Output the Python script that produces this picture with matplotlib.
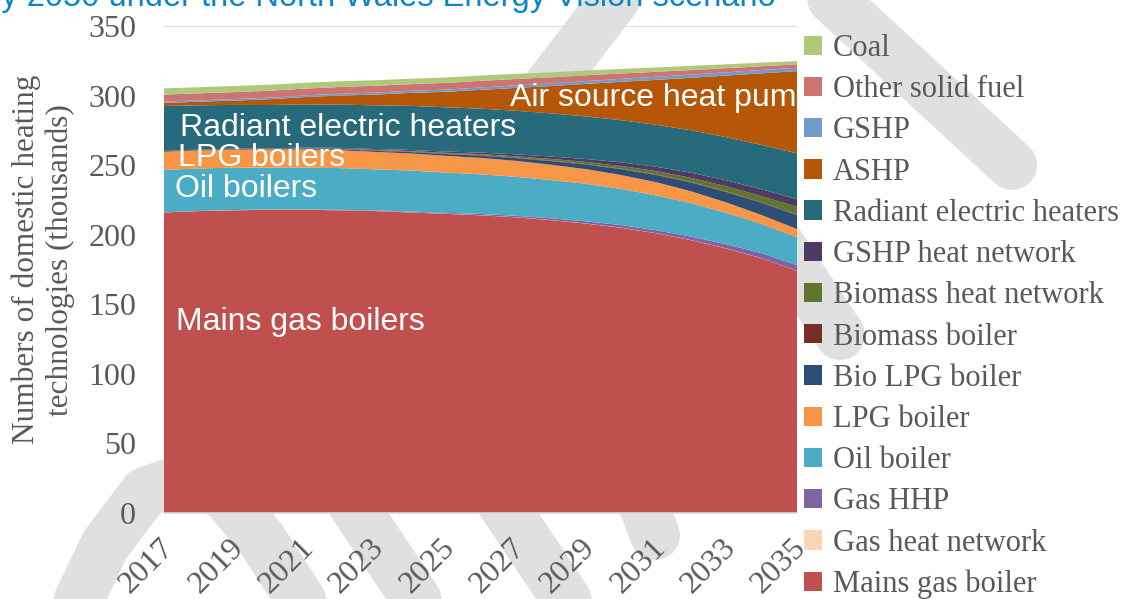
import matplotlib
matplotlib.use('Agg')
import matplotlib.pyplot as plt
from matplotlib.lines import Line2D
from matplotlib.transforms import ScaledTranslation

# years on the x axis
years = list(range(2017, 2036))

# thousands of households, bottom of stack first
mains_gas_boiler = [216, 217, 217.5, 218, 218, 217.5, 217, 216, 215, 214, 212.5, 210.5, 208, 205, 201, 196, 190, 183, 174]
gas_heat_network = [0.1] * 19
gas_hhp = [0, 0, 0.1, 0.1, 0.2, 0.3, 0.4, 0.5, 0.6, 0.8, 1.0, 1.2, 1.5, 1.8, 2.1, 2.5, 3.0, 3.5, 4.0]
oil_boiler = [30.5, 30.5, 30.5, 30, 30, 30, 29.5, 29.5, 29, 28.5, 28, 27.5, 27, 26, 25, 24, 22.5, 21, 20]
lpg_boiler = [13, 13, 13, 13, 13, 12.8, 12.5, 12.3, 12, 11.8, 11.5, 11, 10.5, 10, 9.5, 8.5, 7.5, 6.5, 6]
bio_lpg_boiler = [0, 0, 0, 0.2, 0.4, 0.6, 0.8, 1, 1.3, 1.6, 2, 2.6, 3.3, 4.2, 5.2, 6.3, 7.5, 8.7, 10]
biomass_boiler = [0.4] * 19
biomass_heat_network = [0, 0, 0, 0, 0.1, 0.2, 0.3, 0.4, 0.5, 0.7, 0.9, 1.2, 1.5, 1.9, 2.4, 3, 3.7, 4.5, 5.5]
gshp_heat_network = [0.2, 0.2, 0.3, 0.3, 0.4, 0.5, 0.6, 0.7, 0.9, 1.1, 1.4, 1.7, 2.1, 2.6, 3.1, 3.7, 4.3, 4.9, 5.5]
radiant_electric = [32.3, 31.8, 31.4, 31.1, 31.0, 31.1, 31.4, 31.7, 31.8, 31.6, 31.3, 31.0, 30.6, 30.3, 30.2, 30.5, 31.0, 31.9, 33.0]
ashp = [2.2, 2.6, 3.1, 4.2, 5.3, 6.5, 7.7, 9.3, 11.1, 13.5, 16.4, 19.6, 23.4, 27.6, 32.3, 37.8, 44.4, 51.5, 59.1]
gshp = [1.0, 1.0, 1.1, 1.1, 1.2, 1.3, 1.4, 1.5, 1.6, 1.7, 1.8, 1.9, 2.0, 2.1, 2.2, 2.3, 2.3, 2.4, 2.4]
other_solid_fuel = [5.0, 5.0, 5.0, 5.0, 4.9, 4.9, 4.9, 4.8, 4.8, 4.8, 4.6, 4.4, 4.2, 3.9, 3.6, 3.3, 3.0, 2.7, 2.4]
coal = [4.5, 4.4, 4.4, 4.3, 4.2, 4.1, 4.0, 3.9, 3.9, 3.8, 3.7, 3.6, 3.4, 3.3, 3.1, 3.0, 2.8, 2.6, 2.4]

series = [mains_gas_boiler, gas_heat_network, gas_hhp, oil_boiler, lpg_boiler, bio_lpg_boiler,
          biomass_boiler, biomass_heat_network, gshp_heat_network, radiant_electric, ashp, gshp,
          other_solid_fuel, coal]
labels = ['Mains gas boiler', 'Gas heat network', 'Gas HHP', 'Oil boiler', 'LPG boiler', 'Bio LPG boiler',
          'Biomass boiler', 'Biomass heat network', 'GSHP heat network', 'Radiant electric heaters',
          'ASHP', 'GSHP', 'Other solid fuel', 'Coal']
colors = ['#C0504D', '#FCD5B5', '#8064A2', '#4BACC6', '#F79646', '#2C4D75',
          '#772C2A', '#5F7530', '#4D3B62', '#276A7C', '#B65708', '#729ACA',
          '#CD7371', '#AFC97A']

# in-chart labels (text, x year, y value)
area_labels = [('Mains gas boilers', 2017.34, 137),
               ('Oil boilers', 2017.3, 233),
               ('LPG boilers', 2017.4, 255),
               ('Radiant electric heaters', 2017.45, 277),
               ('Air source heat pumps', 2026.84, 298.5)]

grey = '#595959'
fig = plt.figure(figsize=(11.31, 5.99), dpi=100)

# faint watermark strokes behind the chart (pixel coords)
strokes = [[(530, 110), (645, -40)],
           [(790, -40), (1012, 165)],
           [(760, 215), (840, 335)],
           [(50, 660), (105, 545), (145, 492), (185, 478), (225, 495), (262, 540), (340, 660)],
           [(330, 470), (450, 650)],
           [(480, 470), (600, 650)],
           [(630, 470), (655, 535)]]
for s in strokes:
    xs = [p[0] / 1131 for p in s]
    ys = [1 - p[1] / 599 for p in s]
    fig.add_artist(Line2D(xs, ys, color='#E0E0E0', lw=36, solid_capstyle='round',
                          solid_joinstyle='round', zorder=0))

ax = fig.add_axes([164 / 1131, 1 - 513 / 599, 633 / 1131, 487 / 599])
ax.set_zorder(1)
ax.patch.set_alpha(0)

stacks = ax.stackplot(years, *series, labels=labels, colors=colors, lw=0, zorder=2)

ax.set_xlim(2017, 2035)
ax.set_ylim(0, 350)
ax.set_yticks(range(0, 351, 50))
ax.set_xticks(range(2017, 2036, 2))
ax.set_xticklabels([str(y) for y in range(2017, 2036, 2)], rotation=45, ha='right',
                   va='center', rotation_mode='anchor')
ax.tick_params(axis='both', length=0, labelsize=23, labelcolor=grey)
ax.tick_params(axis='x', pad=22)
ax.tick_params(axis='y', pad=20)
shift = ScaledTranslation(5 / 100, 0, fig.dpi_scale_trans)
for t in ax.get_xticklabels():
    t.set_transform(t.get_transform() + shift)
for t in ax.get_xticklabels() + ax.get_yticklabels():
    t.set_family('Liberation Serif')
ax.grid(axis='y', color='#D9D9D9', lw=1.2, zorder=1)
ax.set_axisbelow(True)
for side in ['left', 'right', 'top']:
    ax.spines[side].set_visible(False)
ax.spines['bottom'].set_color('#D9D9D9')
ax.spines['bottom'].set_linewidth(1.2)

ax.set_ylabel('Numbers of domestic heating\ntechnologies (thousands)', fontsize=22.5,
              color=grey, family='Liberation Serif', linespacing=1.2)
ax.yaxis.set_label_coords(-0.14, 0.52)

for txt, x, y in area_labels:
    ax.text(x, y, txt, color='white', fontsize=23, family='Liberation Sans',
            ha='left', va='center', clip_on=True, zorder=5)

handles = stacks[::-1]
leg = fig.legend(handles, labels[::-1], loc='upper left', bbox_to_anchor=(804 / 1131, 1 - 34 / 599),
                 frameon=False, prop={'family': 'Liberation Serif', 'size': 22},
                 handlelength=0.6, handleheight=0.6, handletextpad=0.35, labelspacing=0.40,
                 borderpad=0, borderaxespad=0)
for t in leg.get_texts():
    t.set_color(grey)

fig.text(-0.015, 1 - 6 / 599, 'by 2050 under the North Wales Energy Vision scenario',
         color='#0B84CC', fontsize=23.5, family='Liberation Sans', ha='left', va='baseline')

fig.savefig('out.png', dpi=100)
